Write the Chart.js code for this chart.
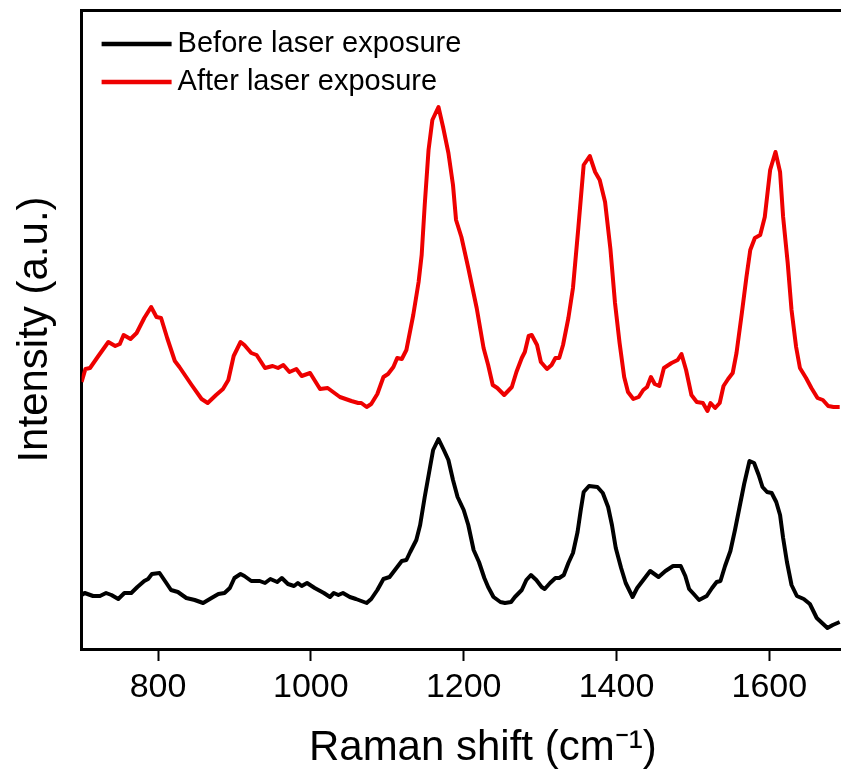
<!DOCTYPE html>
<html>
<head>
<meta charset="utf-8">
<title>Raman spectra</title>
<script src="https://cdn.jsdelivr.net/npm/chart.js@4/dist/chart.umd.min.js"></script>
<style>
  html, body { margin: 0; padding: 0; background: #fff; overflow: hidden; }
  #wrap { width: 884px; height: 775px; }
</style>
</head>
<body>
<div id="wrap"><canvas id="chart"></canvas></div>
<script>
// Raman shift (cm-1) and intensity (a.u.)
var seriesLabels = ['Before laser exposure', 'After laser exposure'];

var beforeShift = [700, 704, 715, 724, 732, 739, 748, 756, 765, 773, 782, 787, 792, 802, 810, 817, 826, 837, 848, 859,
  870, 879, 887, 894, 900, 908, 913, 922, 933, 940, 947, 956, 962, 970, 978, 983, 988, 995, 1005, 1017,
  1025, 1030, 1036, 1042, 1051, 1059, 1066, 1073, 1079, 1087, 1095, 1103, 1110, 1119, 1125, 1130, 1138, 1143, 1149, 1156,
  1160, 1167, 1174, 1180, 1186, 1192, 1200, 1206, 1213, 1220, 1227, 1232, 1239, 1248, 1254, 1262, 1267, 1276, 1282, 1288,
  1295, 1302, 1306, 1313, 1320, 1325, 1331, 1337, 1343, 1349, 1353, 1357, 1364, 1375, 1382, 1389, 1394, 1399, 1406, 1412,
  1421, 1427, 1435, 1444, 1455, 1464, 1474, 1484, 1490, 1495, 1501, 1508, 1518, 1525, 1531, 1536, 1542, 1549, 1555, 1561,
  1567, 1574, 1580, 1586, 1591, 1597, 1603, 1609, 1614, 1618, 1623, 1629, 1636, 1645, 1653, 1662, 1669, 1676, 1683, 1692];
var beforeIntensity = [54, 56, 53, 53, 56, 54, 50, 56, 56, 62, 68, 70, 75, 76, 67, 59, 57, 51, 49, 46,
  51, 55, 56, 61, 71, 75, 73, 68, 68, 66, 70, 67, 71, 65, 63, 66, 63, 66, 61, 56,
  52, 56, 54, 56, 52, 50, 48, 46, 50, 59, 70, 72, 79, 88, 89, 97, 109, 124, 152, 182,
  199, 210, 199, 189, 169, 152, 139, 124, 99, 87, 71, 62, 52, 47, 46, 47, 52, 59, 69, 74,
  69, 62, 60, 66, 71, 71, 74, 86, 96, 117, 138, 157, 163, 162, 156, 142, 124, 101, 81, 66,
  52, 61, 69, 78, 72, 78, 83, 83, 73, 60, 55, 49, 53, 61, 67, 68, 83, 98, 119, 142,
  165, 188, 186, 174, 162, 157, 156, 147, 134, 111, 87, 64, 53, 50, 45, 31, 26, 21, 24, 27];

var afterShift = [700, 705, 711, 721, 735, 744, 750, 755, 764, 772, 782, 791, 798, 804, 812, 822, 828, 844, 857, 865,
  876, 885, 892, 899, 908, 913, 922, 929, 940, 950, 957, 964, 972, 981, 988, 999, 1012, 1022, 1038, 1053,
  1062, 1066, 1073, 1079, 1087, 1095, 1101, 1108, 1113, 1119, 1125, 1134, 1141, 1145, 1149, 1154, 1159, 1167, 1173, 1180,
  1186, 1190, 1197, 1206, 1217, 1226, 1232, 1238, 1244, 1253, 1263, 1269, 1276, 1280, 1285, 1289, 1296, 1301, 1309, 1315,
  1320, 1325, 1330, 1337, 1343, 1350, 1357, 1365, 1372, 1378, 1385, 1392, 1398, 1404, 1410, 1415, 1422, 1429, 1435, 1440,
  1445, 1450, 1456, 1462, 1472, 1480, 1485, 1491, 1498, 1505, 1513, 1519, 1523, 1529, 1535, 1540, 1546, 1552, 1557, 1564,
  1570, 1575, 1581, 1588, 1594, 1601, 1608, 1614, 1618, 1624, 1629, 1635, 1640, 1648, 1655, 1663, 1670, 1677, 1684, 1692];
var afterIntensity = [267, 280, 281, 292, 307, 303, 305, 314, 310, 316, 331, 342, 332, 331, 311, 288, 282, 264, 250, 246,
  254, 260, 269, 293, 307, 304, 296, 294, 281, 283, 281, 284, 277, 280, 273, 276, 260, 261, 252, 248,
  246, 246, 242, 245, 255, 272, 275, 282, 291, 290, 299, 334, 367, 394, 444, 499, 529, 542, 522, 496,
  464, 429, 412, 381, 341, 301, 284, 264, 261, 254, 262, 277, 291, 297, 313, 314, 304, 287, 280, 284,
  291, 291, 304, 331, 361, 421, 484, 493, 477, 469, 447, 400, 346, 306, 272, 257, 250, 252, 259, 262,
  272, 265, 263, 281, 286, 289, 295, 279, 254, 247, 246, 238, 246, 241, 246, 263, 270, 276, 296, 336,
  372, 399, 411, 414, 432, 479, 497, 477, 432, 386, 339, 302, 281, 271, 261, 251, 249, 243, 242, 242];

var xTicks = [800, 1000, 1200, 1400, 1600];

function toPoints(xs, ys) {
  return xs.map(function (x, i) { return { x: x, y: ys[i] }; });
}

var FONT = '"Liberation Sans", Arial, sans-serif';
Chart.defaults.font.family = FONT;
Chart.defaults.color = '#000';

// legend drawn inside the plot, top left, like the original figure
var insideLegend = {
  id: 'insideLegend',
  afterDraw: function (chart) {
    var ctx = chart.ctx;
    var area = chart.chartArea;
    ctx.save();
    ctx.font = '29px ' + FONT;
    ctx.textBaseline = 'middle';
    chart.data.datasets.forEach(function (ds, i) {
      var y = area.top + 34 + i * 38;
      var x0 = area.left + 20;
      ctx.strokeStyle = ds.borderColor;
      ctx.lineWidth = 4.5;
      ctx.beginPath();
      ctx.moveTo(x0, y);
      ctx.lineTo(x0 + 70, y);
      ctx.stroke();
      ctx.fillStyle = '#000';
      ctx.fillText(ds.label, x0 + 76, y);
    });
    ctx.restore();
  }
};

new Chart(document.getElementById('chart').getContext('2d'), {
  type: 'line',
  data: {
    datasets: [
      { label: seriesLabels[0], data: toPoints(beforeShift, beforeIntensity), borderColor: '#000000', borderWidth: 4 },
      { label: seriesLabels[1], data: toPoints(afterShift, afterIntensity), borderColor: '#ee0000', borderWidth: 4 }
    ]
  },
  options: {
    responsive: true,
    maintainAspectRatio: false,
    animation: false,
    elements: { point: { radius: 0 }, line: { tension: 0, borderJoinStyle: 'round' } },
    layout: { padding: { top: 10, right: 0, bottom: 0, left: 0 } },
    plugins: { legend: { display: false }, tooltip: { enabled: false } },
    scales: {
      x: {
        type: 'linear',
        position: 'bottom',
        min: 700,
        max: 1750,
        afterBuildTicks: function (scale) {
          scale.ticks = xTicks.map(function (v) { return { value: v }; });
        },
        afterFit: function (scale) { scale.height = 126; },
        grid: { drawOnChartArea: false, drawTicks: true, tickLength: 12, tickWidth: 2, tickColor: '#000' },
        border: { display: true, color: '#000', width: 3 },
        ticks: {
          padding: 6,
          font: { size: 34 },
          callback: function (v) { return String(v); }
        },
        title: {
          display: true,
          text: 'Raman shift (cm\u207B\u00B9)',
          font: { size: 42, lineHeight: 1.2 },
          padding: { top: 0, bottom: 1 }
        }
      },
      xTop: {
        type: 'linear',
        position: 'top',
        min: 700,
        max: 1750,
        afterFit: function (scale) { scale.height = 0; },
        grid: { display: false, drawTicks: false },
        border: { display: true, color: '#000', width: 3 },
        ticks: { display: false }
      },
      y: {
        min: 0,
        max: 639,
        afterFit: function (scale) { scale.width = 81.6; },
        grid: { display: false, drawTicks: false },
        border: { display: true, color: '#000', width: 3 },
        ticks: { display: false },
        title: {
          display: true,
          text: 'Intensity (a.u.)',
          font: { size: 42, lineHeight: 1.2 },
          padding: { top: 10, bottom: 0 }
        }
      }
    }
  },
  plugins: [insideLegend]
});
</script>
</body>
</html>
